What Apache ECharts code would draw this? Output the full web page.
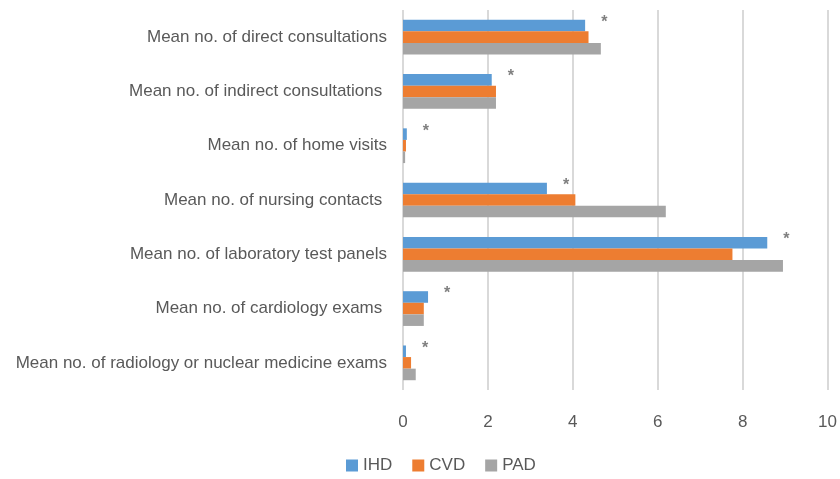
<!DOCTYPE html>
<html>
<head>
<meta charset="utf-8">
<script src="https://cdn.jsdelivr.net/npm/echarts@6/dist/echarts.min.js"></script>
<style>
  html, body { margin: 0; padding: 0; background: #fff; }
  #chart { width: 840px; height: 479px; }
</style>
</head>
<body>
<div id="chart"></div>
<script>
var categories = [
  'Mean no. of direct consultations',
  'Mean no. of indirect consultations ',
  'Mean no. of home visits',
  'Mean no. of nursing contacts ',
  'Mean no. of laboratory test panels',
  'Mean no. of cardiology exams ',
  'Mean no. of radiology or nuclear medicine exams'
];
var ihd = [4.29, 2.09, 0.09, 3.39, 8.58, 0.59, 0.07];
var cvd = [4.37, 2.19, 0.07, 4.06, 7.76, 0.49, 0.19];
var pad = [4.66, 2.19, 0.05, 6.19, 8.95, 0.49, 0.30];
var xTicks = [0, 2, 4, 6, 8, 10];

var txt = '#595959';
var chart = echarts.init(document.getElementById('chart'));
chart.setOption({
  animation: false,
  textStyle: { fontFamily: 'Liberation Sans, Arial, sans-serif' },
  legend: {
    bottom: 0,
    left: 341,
    itemWidth: 12,
    itemHeight: 12,
    itemGap: 20,
    icon: 'rect',
    textStyle: { color: txt, fontSize: 17 },
    data: ['IHD', 'CVD', 'PAD']
  },
  grid: { left: 403, right: 12, top: 10, bottom: 89 },
  xAxis: {
    type: 'value',
    min: xTicks[0],
    max: xTicks[xTicks.length - 1],
    interval: 2,
    axisLine: { show: false },
    axisTick: { show: false },
    axisLabel: { color: txt, fontSize: 17, margin: 24 },
    splitLine: { lineStyle: { color: '#d9d9d9', width: 2 } }
  },
  yAxis: {
    type: 'category',
    inverse: true,
    data: categories,
    axisLine: { show: false },
    axisTick: { show: false },
    axisLabel: { color: txt, fontSize: 17, margin: 16, padding: [4, 0, 0, 0] }
  },
  series: [
    {
      name: 'IHD', type: 'bar', data: ihd, barCategoryGap: '36%', barGap: '0%',
      itemStyle: { color: '#5B9BD5' },
      label: { show: true, position: 'right', distance: 16, offset: [0, -3],
        formatter: '*', color: '#7f7f7f', fontSize: 16, fontWeight: 'bold' }
    },
    { name: 'CVD', type: 'bar', data: cvd, barCategoryGap: '36%', barGap: '0%', itemStyle: { color: '#ED7D31' } },
    { name: 'PAD', type: 'bar', data: pad, barCategoryGap: '36%', barGap: '0%', itemStyle: { color: '#A5A5A5' } }
  ]
});
</script>
</body>
</html>
